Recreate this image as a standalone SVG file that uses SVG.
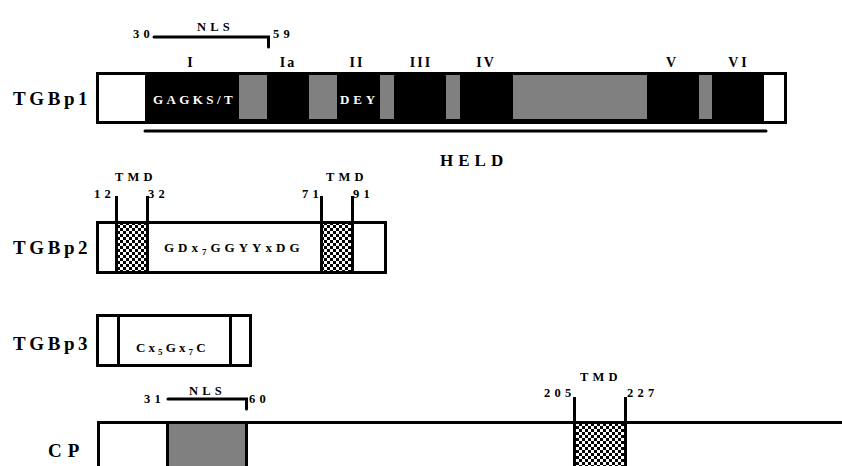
<svg xmlns="http://www.w3.org/2000/svg" width="842" height="466" viewBox="0 0 842 466" font-family="Liberation Serif, Times New Roman, serif" font-weight="bold">
<style>
text{font-family:'Liberation Serif',serif;font-weight:700;fill:#000}
.lab{font-size:19px;letter-spacing:3.6px}
.num{font-size:12.5px;letter-spacing:4.2px}
.rom{font-size:14px;letter-spacing:2px;text-anchor:middle}
.mot{font-size:13px;letter-spacing:3.4px}
.wh{fill:#fff}
.sub{font-size:9px}
.box{fill:#fff;stroke:#000;stroke-width:3}
.ln{stroke:#000;stroke-width:3;fill:none}
.gray{fill:#808080}
.chk{fill:url(#checker);stroke:#000;stroke-width:3}
</style>
<defs>
<pattern id="checker" patternUnits="userSpaceOnUse" width="6" height="6">
<rect width="6" height="6" fill="#fff"/>
<rect width="3" height="3" fill="#000"/>
<rect x="3" y="3" width="3" height="3" fill="#000"/>
</pattern>
</defs>

<g id="TGBp1">
<rect x="97.5" y="73.5" width="688" height="49" fill="#000" stroke="#000" stroke-width="3"/>
<rect x="99" y="75" width="46" height="46" fill="#fff"/>
<rect x="764" y="75" width="20" height="46" fill="#fff"/>
<rect class="gray" x="239" y="75" width="28" height="44"/>
<rect class="gray" x="309" y="75" width="28" height="44"/>
<rect class="gray" x="380" y="75" width="14" height="44"/>
<rect class="gray" x="446" y="75" width="14" height="44"/>
<rect class="gray" x="513" y="75" width="134" height="44"/>
<rect class="gray" x="699" y="75" width="13" height="44"/>
<text class="lab" x="13" y="105">TGBp1</text>
<text class="mot wh" x="153" y="104">GAGKS/T</text>
<text class="mot wh" x="340" y="104" style="letter-spacing:3.8px">DEY</text>
<text class="rom" x="191" y="67">I</text>
<text class="rom" x="288" y="67">Ia</text>
<text class="rom" x="357" y="67">II</text>
<text class="rom" x="421" y="67">III</text>
<text class="rom" x="486" y="67">IV</text>
<text class="rom" x="672" y="67">V</text>
<text class="rom" x="739" y="67" style="letter-spacing:3px">VI</text>
<path class="ln" d="M154 37 H268.5 V47" stroke-linecap="round"/>
<text class="num" x="133" y="38">30</text>
<text class="num" x="197" y="31">NLS</text>
<text class="num" x="273" y="38">59</text>
<line class="ln" x1="145" y1="131" x2="766" y2="131" stroke-linecap="round"/>
<text x="440" y="166" style="font-size:17px;letter-spacing:5px">HELD</text>
</g>

<g id="TGBp2">
<rect class="box" x="97.5" y="222.5" width="288" height="50"/>
<rect class="chk" x="116.5" y="222.5" width="31" height="50"/>
<rect class="chk" x="321.5" y="222.5" width="31" height="50"/>
<line class="ln" x1="116.5" y1="196" x2="116.5" y2="222"/>
<line class="ln" x1="147.5" y1="196" x2="147.5" y2="222"/>
<line class="ln" x1="321.5" y1="196" x2="321.5" y2="222"/>
<line class="ln" x1="352.5" y1="196" x2="352.5" y2="222"/>
<text class="lab" x="13" y="254">TGBp2</text>
<text class="num" x="115" y="181">TMD</text>
<text class="num" x="326" y="181">TMD</text>
<text class="num" x="94" y="198">12</text>
<text class="num" x="148" y="198">32</text>
<text class="num" x="302" y="198">71</text>
<text class="num" x="353" y="198">91</text>
<text class="mot" x="164" y="252" style="letter-spacing:4px">GDx<tspan class="sub" dy="3">7</tspan><tspan dy="-3">GGYYxDG</tspan></text>
</g>

<g id="TGBp3">
<rect class="box" x="97.5" y="315.5" width="153" height="50"/>
<line class="ln" x1="118.5" y1="315" x2="118.5" y2="366"/>
<line class="ln" x1="230.5" y1="315" x2="230.5" y2="366"/>
<text class="lab" x="13" y="350">TGBp3</text>
<text class="mot" x="136" y="352" style="letter-spacing:3.1px">Cx<tspan class="sub" dy="3">5</tspan><tspan dy="-3">Gx</tspan><tspan class="sub" dy="3">7</tspan><tspan dy="-3">C</tspan></text>
</g>

<g id="CP">
<path class="ln" d="M98.5 468 V422.5 H842"/>
<rect class="gray" x="167.5" y="422.5" width="79" height="46" stroke="#000" stroke-width="3"/>
<rect class="chk" x="574.5" y="422.5" width="51" height="46"/>
<line class="ln" x1="574.5" y1="397" x2="574.5" y2="422"/>
<line class="ln" x1="625.5" y1="397" x2="625.5" y2="422"/>
<path class="ln" d="M168 399 H246.5 V409" stroke-linecap="round"/>
<text class="num" x="144" y="403">31</text>
<text class="num" x="189" y="395">NLS</text>
<text class="num" x="249" y="403">60</text>
<text class="num" x="580" y="381">TMD</text>
<text class="num" x="544" y="397">205</text>
<text class="num" x="627" y="397">227</text>
<text class="lab" x="48" y="457" style="letter-spacing:6px">CP</text>
</g>

<g id="connectors"></g>
</svg>
